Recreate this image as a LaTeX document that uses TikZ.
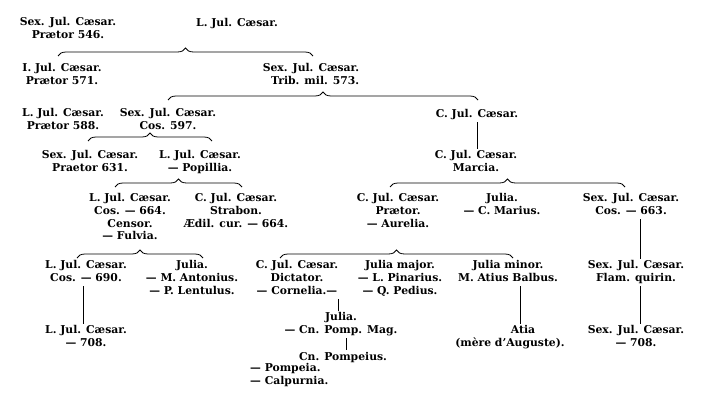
\documentclass[tikz,border=0pt]{standalone}
\usepackage{fontspec}
\setmainfont{DejaVu Serif}
\usetikzlibrary{calc,decorations.pathreplacing}

\tikzset{
	personne/.style={align=center, inner sep=0pt, anchor=north, yshift=9pt,
		execute at begin node=\strut, font=\fontsize{10.8}{12.86}\selectfont\bfseries},
	accolade/.style={decorate, decoration={brace, amplitude=8pt}, line width=0.8pt},
	filiation/.style={line width=0.8pt, shorten <=1pt, shorten >=1pt}
}

\begin{document}
\begin{tikzpicture}[x=1pt, y=-1pt]
		\useasboundingbox[fill=white] (0,0) rectangle (706,401);
		% premiere generation
		\node[personne] (sjc546) at (68,26) {Sex. Jul. Cæsar.\\Prætor 546.};
		\node[personne] (ljc1) at (237,26) {L. Jul. Cæsar.};
		\node[personne] (ijc571) at (62,72) {I. Jul. Cæsar.\\Prætor 571.};
		\node[personne, align=right] (sjc573) at (311,72) {Sex. Jul. Cæsar.\\Trib. mil. 573.};
		\draw[accolade] ($(ijc571.center |- 0,56)+(-4,0)$) -- ($(sjc573.center |- 0,56)+(2,0)$);
		\node[personne] (ljc588) at (63,117) {L. Jul. Cæsar.\\Prætor 588.};
		\node[personne] (sjc597) at (168,117) {Sex. Jul. Cæsar.\\Cos. 597.};
		\node[personne] (cjc1) at (477,117) {C. Jul. Cæsar.};
		\draw[accolade] ($(sjc597.center |- 0,100)+(0,0)$) -- ($(cjc1.center |- 0,100)+(1,0)$);
		% branche de gauche
		\node[personne] (sjc631) at (90,159) {Sex. Jul. Cæsar.\\Praetor 631.};
		\node[personne] (ljcpop) at (200,159) {L. Jul. Cæsar.\\— Popillia.};
		\draw[accolade] ($(sjc631.center |- 0,141)+(-2,0)$) -- ($(ljcpop.center |- 0,141)+(12,0)$);
		\node[personne] (ljc664) at (130,202) {L. Jul. Cæsar.\\Cos. — 664.\\Censor.\\— Fulvia.};
		\node[personne] (cjcstr) at (236,202) {C. Jul. Cæsar.\\Strabon.\\Ædil. cur. — 664.};
		\draw[accolade] ($(ljc664.center |- 0,187)+(-15,0)$) -- ($(cjcstr.center |- 0,187)+(6,0)$);
		\node[personne] (ljc690) at (86,269) {L. Jul. Cæsar.\\Cos. — 690.};
		\node[personne] (juliaant) at (192,269) {Julia.\\— M. Antonius.\\— P. Lentulus.};
		\draw[accolade] ($(ljc690.center |- 0,258)+(-9,0)$) -- ($(juliaant.center |- 0,258)+(11,0)$);
		\node[personne] (ljc708) at (86,334) {L. Jul. Cæsar.\\— 708.};
		% branche de droite
		\node[personne] (cjcmar) at (476,159) {C. Jul. Cæsar.\\Marcia.};
		\node[personne] (cjcaur) at (398,202) {C. Jul. Cæsar.\\Prætor.\\— Aurelia.};
		\node[personne] (juliamar) at (502,202) {Julia.\\— C. Marius.};
		\node[personne] (sjc663) at (631,202) {Sex. Jul. Cæsar.\\Cos. — 663.};
		\draw[accolade] ($(cjcaur.center |- 0,187)+(-8,0)$) -- ($(sjc663.center |- 0,187)+(-6,0)$);
		\node[personne] (dict) at (297,269) {C. Jul. Cæsar.\\Dictator.\\— Cornelia.—};
		\node[personne] (juliamaj) at (400,269) {Julia major.\\— L. Pinarius.\\— Q. Pedius.};
		\node[personne] (juliamin) at (508,269) {Julia minor.\\M. Atius Balbus.};
		\node[personne] (sjcfla) at (636,269) {Sex. Jul. Cæsar.\\Flam. quirin.};
		\draw[accolade] ($(dict.center |- 0,258)+(-17,0)$) -- ($(juliamin.center |- 0,258)+(5,0)$);
		\node[personne] (juliapomp) at (341,321) {Julia.\\— Cn. Pomp. Mag.};
		\node[personne] (pompeius) at (343,360) {Cn. Pompeius.};
		\node[personne, align=left, anchor=north west] (epouses) at (250,372) {— Pompeia.\\— Calpurnia.};
		\node[personne] (atia) at (510,334) {\hspace*{26pt}Atia\\(mère d’Auguste).};
		\node[personne] (sjc708) at (636,334) {Sex. Jul. Cæsar.\\— 708.};
		% descendances directes
		\draw[filiation] (cjc1.south) -- (cjc1.south |- cjcmar.north);
		\draw[filiation] ($(sjc663.south)+(9,0)$) -- ($(sjc663.south |- sjcfla.north)+(9,0)$);
		\draw[filiation] ($(sjcfla.south)+(4,0)$) -- ($(sjcfla.south |- sjc708.north)+(4,0)$);
		\draw[filiation] ($(ljc690.south)+(-3,0)$) -- ($(ljc690.south |- ljc708.north)+(-3,0)$);
		\draw[filiation] ($(juliamin.south)+(12,0)$) -- ($(juliamin.south |- atia.north)+(12,0)$);
		\draw[filiation] (dict.south east) -- (dict.south east |- juliapomp.north);
		\draw[filiation] ($(juliapomp.south)+(5,0)$) -- ($(juliapomp.south |- pompeius.north)+(5,0)$);
	\end{tikzpicture}
\end{document}
